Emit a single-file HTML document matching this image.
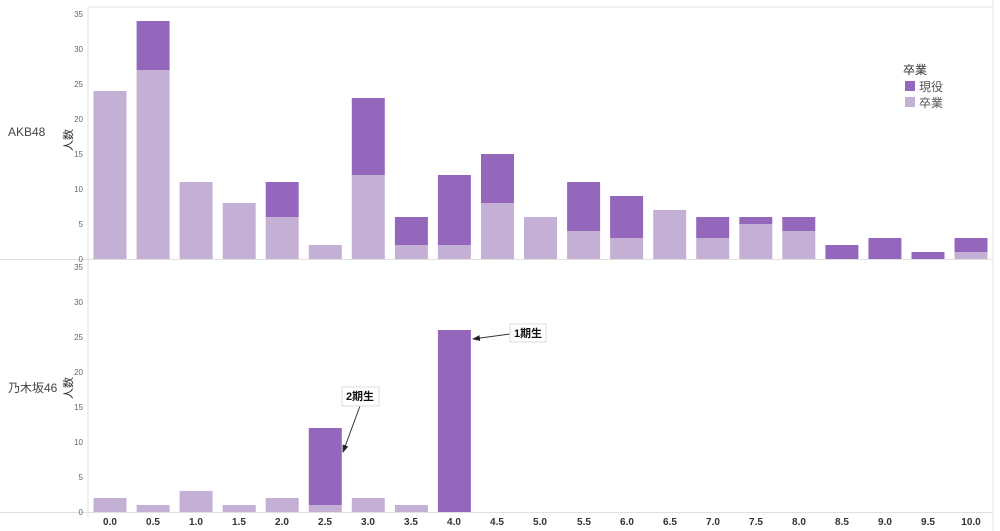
<!DOCTYPE html>
<html><head><meta charset="utf-8"><style>
body{margin:0;background:#fff;}
svg{display:block;font-family:"Liberation Sans","Noto Sans CJK JP",sans-serif;}
.t{font-size:8px;fill:#666;text-anchor:end}
.x{font-size:10px;fill:#333;font-weight:bold;text-anchor:middle}
.d{fill:#9467bd}.l{fill:#c5b0d5}
</style></head><body>
<svg width="1000" height="531" viewBox="0 0 1000 531">
<line x1="88" y1="7" x2="993" y2="7" stroke="#e6e6e6"/>
<line x1="993" y1="0" x2="993" y2="531" stroke="#e6e6e6"/>
<line x1="88" y1="7" x2="88" y2="517" stroke="#e0e0e0"/>
<line x1="0" y1="259.5" x2="993" y2="259.5" stroke="#e0e0e0"/>
<line x1="0" y1="512.5" x2="993" y2="512.5" stroke="#e0e0e0"/>
<g class="t">
<text x="83" y="262">0</text><text x="83" y="227">5</text><text x="83" y="192">10</text><text x="83" y="157">15</text><text x="83" y="122">20</text><text x="83" y="87">25</text><text x="83" y="52">30</text><text x="83" y="17">35</text>
<text x="83" y="515">0</text><text x="83" y="480">5</text><text x="83" y="445">10</text><text x="83" y="410">15</text><text x="83" y="375">20</text><text x="83" y="340">25</text><text x="83" y="305">30</text><text x="83" y="270">35</text>
</g>
<text x="8" y="136" font-size="12" fill="#444">AKB48</text>
<text x="8" y="392" font-size="12" fill="#444">乃木坂46</text>
<text transform="translate(72,140) rotate(-90)" font-size="11" fill="#333" text-anchor="middle">人数</text>
<text transform="translate(72,388) rotate(-90)" font-size="11" fill="#333" text-anchor="middle">人数</text>
<!-- top -->
<rect class="l" x="93.5" y="91" width="33" height="168"/>
<rect class="l" x="136.6" y="70" width="33" height="189"/><rect class="d" x="136.6" y="21" width="33" height="49"/>
<rect class="l" x="179.6" y="182" width="33" height="77"/>
<rect class="l" x="222.7" y="203" width="33" height="56"/>
<rect class="l" x="265.7" y="217" width="33" height="42"/><rect class="d" x="265.7" y="182" width="33" height="35"/>
<rect class="l" x="308.8" y="245" width="33" height="14"/>
<rect class="l" x="351.8" y="175" width="33" height="84"/><rect class="d" x="351.8" y="98" width="33" height="77"/>
<rect class="l" x="394.9" y="245" width="33" height="14"/><rect class="d" x="394.9" y="217" width="33" height="28"/>
<rect class="l" x="437.9" y="245" width="33" height="14"/><rect class="d" x="437.9" y="175" width="33" height="70"/>
<rect class="l" x="481" y="203" width="33" height="56"/><rect class="d" x="481" y="154" width="33" height="49"/>
<rect class="l" x="524" y="217" width="33" height="42"/>
<rect class="l" x="567.1" y="231" width="33" height="28"/><rect class="d" x="567.1" y="182" width="33" height="49"/>
<rect class="l" x="610.1" y="238" width="33" height="21"/><rect class="d" x="610.1" y="196" width="33" height="42"/>
<rect class="l" x="653.2" y="210" width="33" height="49"/>
<rect class="l" x="696.2" y="238" width="33" height="21"/><rect class="d" x="696.2" y="217" width="33" height="21"/>
<rect class="l" x="739.3" y="224" width="33" height="35"/><rect class="d" x="739.3" y="217" width="33" height="7"/>
<rect class="l" x="782.3" y="231" width="33" height="28"/><rect class="d" x="782.3" y="217" width="33" height="14"/>
<rect class="d" x="825.4" y="245" width="33" height="14"/>
<rect class="d" x="868.4" y="238" width="33" height="21"/>
<rect class="d" x="911.5" y="252" width="33" height="7"/>
<rect class="l" x="954.5" y="252" width="33" height="7"/><rect class="d" x="954.5" y="238" width="33" height="14"/>
<!-- bottom -->
<rect class="l" x="93.5" y="498" width="33" height="14"/>
<rect class="l" x="136.6" y="505" width="33" height="7"/>
<rect class="l" x="179.6" y="491" width="33" height="21"/>
<rect class="l" x="222.7" y="505" width="33" height="7"/>
<rect class="l" x="265.7" y="498" width="33" height="14"/>
<rect class="l" x="308.8" y="505" width="33" height="7"/><rect class="d" x="308.8" y="428" width="33" height="77"/>
<rect class="l" x="351.8" y="498" width="33" height="14"/>
<rect class="l" x="394.9" y="505" width="33" height="7"/>
<rect class="d" x="437.9" y="330" width="33" height="182"/>
<!-- annotations -->
<defs><marker id="a" markerWidth="8" markerHeight="6" refX="7" refY="3" orient="auto"><path d="M0,0L8,3L0,6z" fill="#222"/></marker></defs>
<line x1="510" y1="334" x2="473" y2="339" stroke="#333" marker-end="url(#a)"/>
<rect x="510" y="324" width="36" height="18" fill="#fff" stroke="#ddd"/>
<text x="528" y="337" font-size="11" font-weight="bold" text-anchor="middle" fill="#111">1期生</text>
<line x1="360" y1="406" x2="343" y2="452" stroke="#333" marker-end="url(#a)"/>
<rect x="342" y="387" width="37" height="19" fill="#fff" stroke="#ddd"/>
<text x="360" y="400" font-size="11" font-weight="bold" text-anchor="middle" fill="#111">2期生</text>
<!-- x labels -->
<g class="x">
<text x="110" y="525">0.0</text><text x="153" y="525">0.5</text><text x="196" y="525">1.0</text><text x="239" y="525">1.5</text><text x="282" y="525">2.0</text><text x="325" y="525">2.5</text><text x="368" y="525">3.0</text><text x="411" y="525">3.5</text><text x="454" y="525">4.0</text><text x="497" y="525">4.5</text><text x="540" y="525">5.0</text><text x="584" y="525">5.5</text><text x="627" y="525">6.0</text><text x="670" y="525">6.5</text><text x="713" y="525">7.0</text><text x="756" y="525">7.5</text><text x="799" y="525">8.0</text><text x="842" y="525">8.5</text><text x="885" y="525">9.0</text><text x="928" y="525">9.5</text><text x="971" y="525">10.0</text>
</g>
<!-- legend -->
<text x="903" y="74" font-size="12" fill="#333">卒業</text>
<rect x="905" y="81" width="10" height="10" class="d"/><text x="919" y="91" font-size="12" fill="#555">現役</text>
<rect x="905" y="97" width="10" height="10" class="l"/><text x="919" y="107" font-size="12" fill="#555">卒業</text>
</svg>
</body></html>
